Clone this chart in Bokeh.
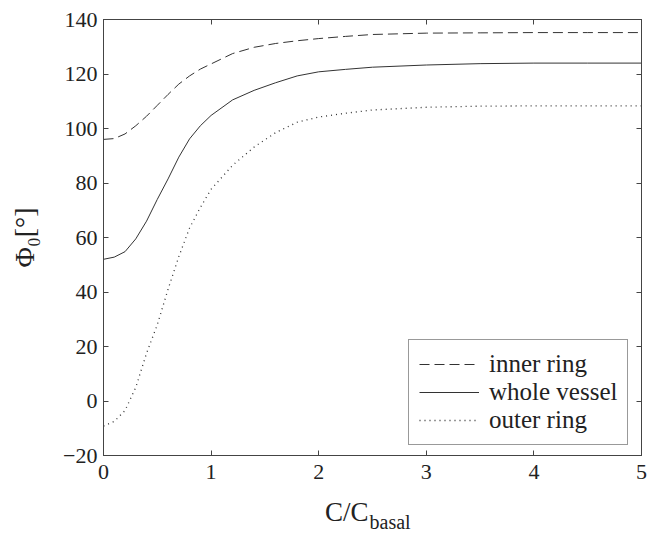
import math
from bokeh.plotting import figure
from bokeh.models import (FixedTicker, LinearAxis, Range1d, Label, Legend, LegendItem)
from bokeh.embed import file_html
from bokeh.resources import INLINE

# ---- data ----
c_ratio = [0, 0.1, 0.2, 0.3, 0.4, 0.5, 0.6, 0.7, 0.8, 0.9, 1.0, 1.2, 1.4, 1.6,
           1.8, 2.0, 2.25, 2.5, 3.0, 3.5, 4.0, 4.5, 5.0]
inner_ring = [96, 96.3, 98, 101, 104.5, 108.5, 112.5, 116.3, 119.3, 121.8, 123.7,
              127.5, 129.8, 131.2, 132.2, 133, 133.8, 134.5, 135, 135.1, 135.2, 135.2, 135.2]
whole_vessel = [52, 52.8, 54.8, 59.5, 66, 74, 81.5, 89.5, 96.2, 101, 104.8,
                110.5, 114, 116.8, 119.3, 120.8, 121.7, 122.5, 123.3, 123.8, 124, 124, 124]
outer_ring = [-9.2, -7.5, -3.5, 5, 17.5, 28, 41, 53, 63.5, 71, 77.7,
              86.5, 93.2, 98.5, 102.3, 104.2, 105.6, 106.8, 107.8, 108.2, 108.3, 108.3, 108.3]
x_ticks = [0, 1, 2, 3, 4, 5]
y_ticks = [-20, 0, 20, 40, 60, 80, 100, 120, 140]
series_names = ["inner ring", "whole vessel", "outer ring"]

FONT = "Liberation Serif"
LINE = "#333333"
AXC = "#444444"

p = figure(output_backend="svg", toolbar_location=None,
           frame_width=538, frame_height=436,
           min_border_left=103, min_border_right=6, min_border_top=19, min_border_bottom=0,
           x_range=Range1d(0, 5), y_range=Range1d(-20, 140),
           x_axis_location=None, y_axis_location=None)
p.xgrid.visible = False
p.ygrid.visible = False
p.outline_line_color = AXC
p.outline_line_width = 1
p.background_fill_color = "white"
p.border_fill_color = "white"

def style_axis(ax, ticks, show_labels):
    ax.ticker = FixedTicker(ticks=ticks)
    ax.major_tick_in = 5
    ax.major_tick_out = 0
    ax.minor_tick_line_color = None
    ax.axis_line_color = AXC
    ax.major_tick_line_color = AXC
    ax.major_label_text_font = FONT
    ax.major_label_text_font_size = "22px"
    ax.major_label_text_color = "#222222"
    if not show_labels:
        ax.major_label_overrides = {t: "" for t in ticks}
        ax.major_label_standoff = 0

bx = LinearAxis(); style_axis(bx, x_ticks, True); bx.major_label_standoff = 9
ly = LinearAxis(); style_axis(ly, y_ticks, True); ly.major_label_standoff = 6
ly.axis_label = "Φ₀[°]"
ly.axis_label_text_font = FONT
ly.axis_label_text_font_size = "28px"
ly.axis_label_text_font_style = "normal"
ly.axis_label_text_color = "#222222"
ly.axis_label_standoff = 20
tx = LinearAxis(); style_axis(tx, x_ticks, False)
ry = LinearAxis(); style_axis(ry, y_ticks, False)
p.add_layout(bx, "below")
p.add_layout(ly, "left")
p.add_layout(tx, "above")
p.add_layout(ry, "right")

r1 = p.line(c_ratio, inner_ring, line_color=LINE, line_width=1, line_dash="10 5")
r2 = p.line(c_ratio, whole_vessel, line_color=LINE, line_width=1)
r3 = p.line(c_ratio, outer_ring, line_color=LINE, line_width=1.3, line_dash="1 4")

legend = Legend(items=[LegendItem(label=series_names[0], renderers=[r1]),
                       LegendItem(label=series_names[1], renderers=[r2]),
                       LegendItem(label=series_names[2], renderers=[r3])],
                location=(305, 10),
                label_text_font=FONT, label_text_font_size="25px",
                label_text_color="#222222",
                glyph_width=60, glyph_height=28, label_height=28,
                label_standoff=10, spacing=0, padding=10, margin=0,
                border_line_color="#333333", border_line_width=1,
                background_fill_alpha=1.0)
p.add_layout(legend, "center")

# x axis label: C/C with subscript "basal", placed in the panels below the axis
lab1 = Label(x=265, y=0, x_units="screen", y_units="screen",
             text="C/C", text_align="right", text_baseline="alphabetic",
             text_font=FONT, text_font_size="27px", text_color="#222222")
lab2 = Label(x=266, y=12, x_units="screen", y_units="screen",
             text="basal", text_align="left", text_baseline="alphabetic",
             text_font=FONT, text_font_size="20px", text_color="#222222")
p.add_layout(lab1, "below")
p.add_layout(lab2, "below")

open("out.html", "w").write(file_html(p, INLINE))
